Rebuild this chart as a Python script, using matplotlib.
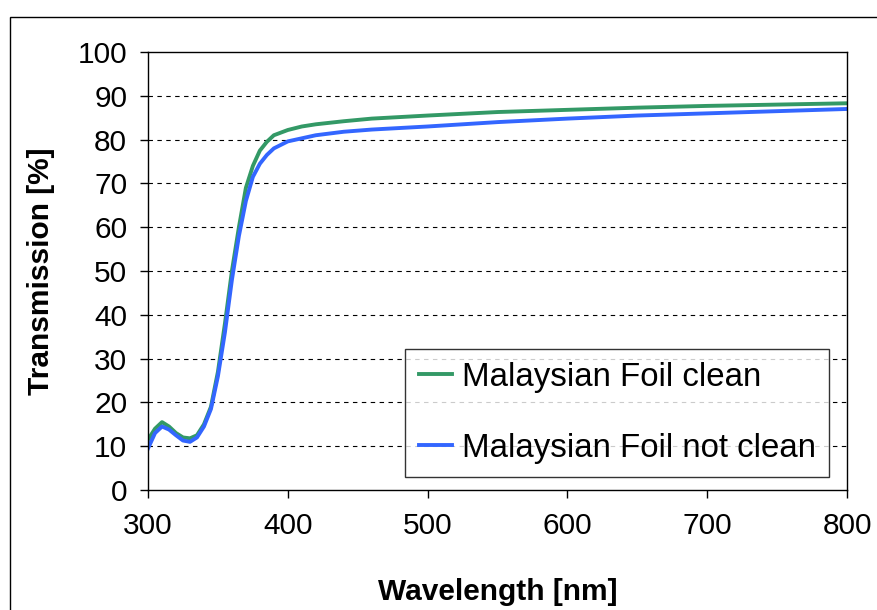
import matplotlib
matplotlib.use("Agg")
import matplotlib.pyplot as plt
from matplotlib.patches import Rectangle

plt.rcParams["font.family"] = ["Liberation Sans", "DejaVu Sans"]

wavelength = [300, 305, 310, 315, 320, 325, 330, 335, 340, 345, 350, 355, 360,
              365, 370, 375, 380, 385, 390, 400, 410, 420, 440, 460, 500, 550,
              600, 650, 700, 750, 800]
clean = [11.5, 14.0, 15.5, 14.5, 13.0, 12.0, 11.8, 12.5, 15.0, 19.0, 27.0, 38.0,
         50.0, 60.0, 69.0, 74.0, 77.5, 79.5, 81.0, 82.2, 83.0, 83.5, 84.2, 84.8,
         85.5, 86.3, 86.8, 87.3, 87.7, 88.0, 88.3]
not_clean = [9.5, 13.0, 14.5, 13.8, 12.5, 11.3, 11.0, 12.0, 14.5, 18.5, 26.0,
             36.0, 48.0, 58.0, 66.0, 71.5, 74.5, 76.5, 78.0, 79.6, 80.3, 81.0,
             81.8, 82.3, 83.0, 84.0, 84.8, 85.5, 86.0, 86.5, 87.0]

fig = plt.figure(figsize=(8.77, 6.10), dpi=100)
ax = fig.add_axes([0.1688, 0.1967, 0.797, 0.718])

# outer frame (chart area border)
fig.patches.append(Rectangle((10 / 877, -0.01), 1.0, (610 - 17) / 610 + 0.01,
                             transform=fig.transFigure, fill=False,
                             edgecolor="black", linewidth=1.0))

ax.plot(wavelength, clean, color="#339966", lw=2.8, label="Malaysian Foil clean")
ax.plot(wavelength, not_clean, color="#3366FF", lw=2.8, label="Malaysian Foil not clean")

ax.set_xlim(300, 800)
ax.set_ylim(0, 100)
ax.set_xticks(range(300, 801, 100))
ax.set_yticks(range(0, 101, 10))
ax.tick_params(labelsize=21.5, direction="out", length=6, width=1)
ax.tick_params(axis="x", pad=10)
ax.tick_params(axis="y", pad=9)
for y in range(10, 100, 10):
    ax.axhline(y, color="black", ls=(0, (4, 4)), lw=0.8, zorder=0)

for s in ax.spines.values():
    s.set_linewidth(1.0)

ax.set_xlabel("Wavelength [nm]", fontsize=21.5, fontweight="bold", labelpad=27)
ax.set_ylabel("Transmission [%]", fontsize=21.5, fontweight="bold", labelpad=16)

leg = ax.legend(loc="lower right", bbox_to_anchor=(0.974, 0.03), fontsize=23.8,
                frameon=True, fancybox=False, edgecolor="black",
                handlelength=1.0, handletextpad=0.3, labelspacing=1.2,
                borderpad=0.4, borderaxespad=0)
leg.get_frame().set_linewidth(1.0)

fig.savefig("out.png", dpi=100)
